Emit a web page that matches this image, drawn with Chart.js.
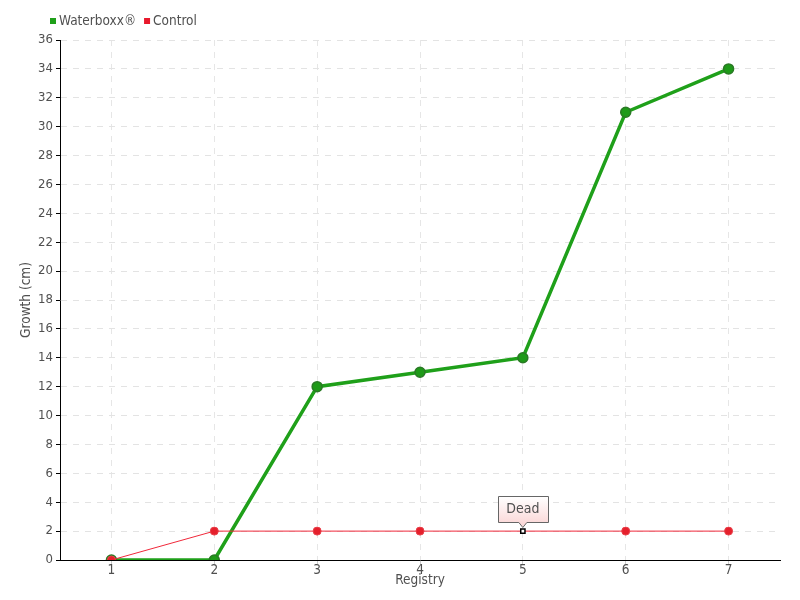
<!DOCTYPE html>
<html><head><meta charset="utf-8">
<script src="https://cdn.jsdelivr.net/npm/chart.js@4"></script>
<style>html,body{margin:0;padding:0;background:#fff}#wrap{width:800px;height:600px}</style>
</head><body><div id="wrap"><canvas id="c" width="800" height="600"></canvas></div>
<script>
const categories = ['1','2','3','4','5','6','7'];
const waterboxx = [0, 0, 12, 13, 14, 31, 34];
const control = [0, 2, 2, 2, 2, 2, 2];
const deadIndex = 4;
const deadLabel = 'Dead';
const yTicks = [0,2,4,6,8,10,12,14,16,18,20,22,24,26,28,30,32,34,36];
const seriesNames = ['Waterboxx®', 'Control'];

const FONT = "'DejaVu Sans Condensed', 'Liberation Sans Narrow', sans-serif";
const TXT = '#505050';
Chart.defaults.font.family = FONT;
Chart.defaults.color = TXT;

const deadPlugin = {
  id: 'dead',
  afterDatasetsDraw(chart) {
    const ctx = chart.ctx;
    const x = chart.scales.x.getPixelForValue(deadIndex);
    const y = chart.scales.y.getPixelForValue(control[deadIndex]);
    const w = 50, h = 26;
    const bx = Math.round(x - w/2) + 0.5, by = Math.round(y - 9 - h) + 0.5;
    ctx.save();
    const g = ctx.createLinearGradient(0, by, 0, by + h);
    g.addColorStop(0, '#ffffff'); g.addColorStop(1, '#fbdada');
    ctx.beginPath();
    ctx.moveTo(bx, by); ctx.lineTo(bx + w, by); ctx.lineTo(bx + w, by + h);
    ctx.lineTo(x + 4, by + h); ctx.lineTo(x, by + h + 5); ctx.lineTo(x - 4, by + h);
    ctx.lineTo(bx, by + h); ctx.closePath();
    ctx.fillStyle = g; ctx.fill();
    ctx.strokeStyle = '#666'; ctx.lineWidth = 1; ctx.stroke();
    ctx.fillStyle = TXT;
    ctx.font = '14px ' + FONT;
    ctx.textAlign = 'center'; ctx.textBaseline = 'middle';
    ctx.fillText(deadLabel, x, by + h/2);
    ctx.restore();
  }
};

const legendPlugin = {
  id: 'customLegend',
  afterDraw(chart) {
    const ctx = chart.ctx;
    ctx.save();
    ctx.font = '13.5px ' + FONT;
    ctx.textBaseline = 'middle';
    let x = 50; const y = 21;
    chart.data.datasets.forEach(d => {
      ctx.fillStyle = d.backgroundColor;
      ctx.fillRect(x, y - 3, 6, 6);
      ctx.fillStyle = TXT;
      ctx.fillText(d.label, x + 9, y);
      x += 9 + ctx.measureText(d.label).width + 8;
    });
    ctx.restore();
  }
};

new Chart(document.getElementById('c'), {
  type: 'line',
  data: {
    labels: categories,
    datasets: [
      {
        label: seriesNames[0],
        data: waterboxx,
        borderColor: '#1fa01a',
        backgroundColor: '#1fa01a',
        pointBorderColor: '#2a7a25',
        pointBackgroundColor: '#1e9a18',
        borderWidth: 3.5,
        pointRadius: 5,
        pointBorderWidth: 1.5,
        tension: 0,
        order: 2
      },
      {
        label: seriesNames[1],
        data: control,
        borderColor: '#f0283a',
        backgroundColor: '#e8192c',
        pointBackgroundColor: control.map((v,i) => i === deadIndex ? '#ffffff' : '#e5202c'),
        pointBorderColor: control.map((v,i) => i === deadIndex ? '#000000' : '#e8404a'),
        pointStyle: control.map((v,i) => i === deadIndex ? 'rect' : 'circle'),
        pointRadius: control.map((v,i) => i === deadIndex ? 3 : 4),
        pointBorderWidth: control.map((v,i) => i === deadIndex ? 1.5 : 1),
        borderWidth: 1,
        tension: 0,
        order: 1
      }
    ]
  },
  options: {
    responsive: false,
    animation: false,
    layout: { padding: { left: 0, right: 20, top: 40, bottom: 0 } },
    plugins: {
      legend: { display: false },
      tooltip: { enabled: false }
    },
    scales: {
      x: {
        offset: true,
        afterFit(s) { s.height = 40; },
        title: { display: true, text: 'Registry', font: { size: 13.5 }, color: TXT, padding: { top: 0, bottom: 11 } },
        grid: { display: true, color: '#e6e6e6', lineWidth: 1, tickLength: 4, tickColor: '#ccc', offset: false },
        border: { color: '#000', width: 1, dash: [6, 6] },
        ticks: { font: { size: 13.5 }, color: TXT, padding: -2 }
      },
      y: {
        min: 0, max: 36,
        afterFit(s) { s.width = 60; },
        afterBuildTicks(scale) { scale.ticks = yTicks.map(v => ({ value: v })); },
        title: { display: true, text: 'Growth (cm)', font: { size: 13.5 }, color: TXT, padding: { top: 18, bottom: 0 } },
        grid: { color: '#e3e3e3', lineWidth: 1, tickLength: 4, tickColor: '#000' },
        border: { color: '#000', width: 1, dash: [6, 6] },
        ticks: { font: { size: 13 }, color: TXT, padding: 3 }
      }
    }
  },
  plugins: [deadPlugin, legendPlugin]
});
</script>
</body></html>
